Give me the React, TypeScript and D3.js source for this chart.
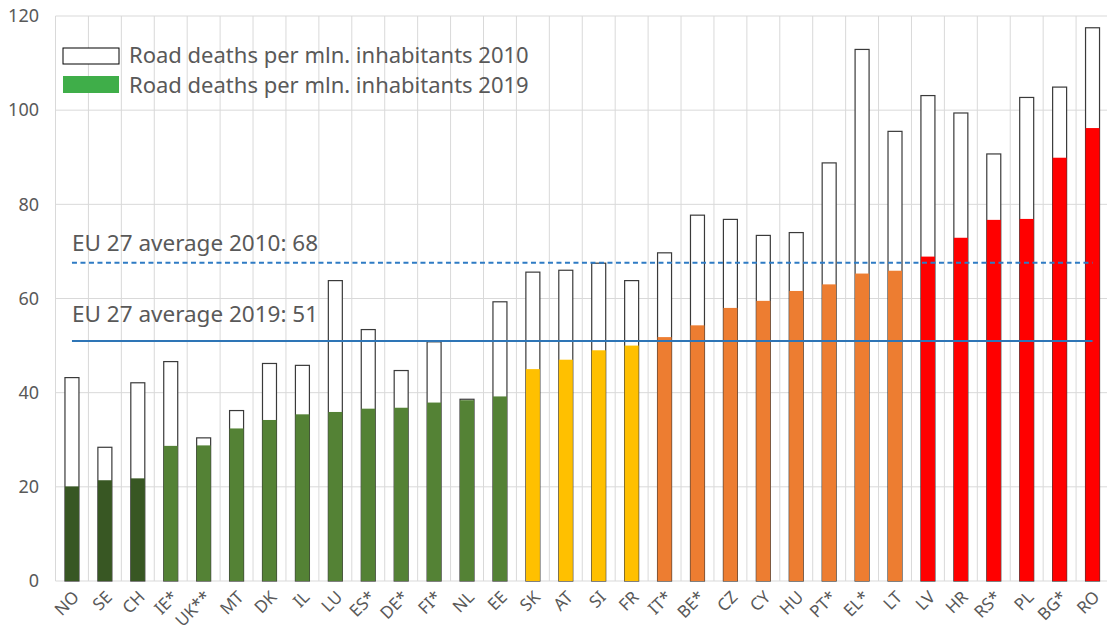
import React from 'react';
import * as d3 from 'd3';

const countries = ['NO', 'SE', 'CH', 'IE*', 'UK**', 'MT', 'DK', 'IL', 'LU', 'ES*', 'DE*', 'FI*', 'NL', 'EE', 'SK', 'AT', 'SI', 'FR', 'IT*', 'BE*', 'CZ', 'CY', 'HU', 'PT*', 'EL*', 'LT', 'LV', 'HR', 'RS*', 'PL', 'BG*', 'RO'];
const deaths2010 = [43.2, 28.4, 42.1, 46.6, 30.4, 36.2, 46.2, 45.8, 63.8, 53.4, 44.7, 50.8, 38.6, 59.3, 65.6, 66.0, 67.5, 63.8, 69.7, 77.7, 76.8, 73.4, 74.0, 88.8, 112.9, 95.5, 103.1, 99.4, 90.7, 102.7, 104.9, 117.5];
const deaths2019 = [20.1, 21.4, 21.8, 28.7, 28.8, 32.4, 34.2, 35.4, 35.9, 36.6, 36.8, 37.9, 38.4, 39.2, 45.0, 47.0, 49.0, 50.0, 51.8, 54.3, 58.0, 59.5, 61.6, 63.0, 65.3, 65.9, 68.9, 72.9, 76.7, 76.9, 89.9, 96.2];
// colour group per country (0 dark green, 1 green, 2 yellow, 3 orange, 4 red)
const groups = [0, 0, 0, 1, 1, 1, 1, 1, 1, 1, 1, 1, 1, 1, 2, 2, 2, 2, 3, 3, 3, 3, 3, 3, 3, 3, 4, 4, 4, 4, 4, 4];
const yTicks = [0, 20, 40, 60, 80, 100, 120];
const avg2010 = 67.6;
const avg2019 = 51;

const groupColors = ['#385723', '#548235', '#ffc000', '#ed7d31', '#ff0000'];
const font = '"Noto Sans", "Open Sans", sans-serif';
const grey = '#595959';

const App = () => {
  const width = 1107;
  const height = 630;
  const left = 55.5;
  const right = 1109;

  const x = d3.scaleBand<string>()
    .domain(countries)
    .range([left, right])
    .paddingInner(0.575)
    .paddingOuter(0.2875);
  const y = d3.scaleLinear().domain([0, 120]).range([581, 16]);

  const step = x.step();
  const bw = x.bandwidth();
  const cx = (c: string) => (x(c) || 0) + bw / 2;
  const vLines = d3.range(countries.length + 1).map((i) => left + i * step);

  return (
    <svg width={width} height={height} style={{ position: 'absolute', left: 0, top: 0 }} fontFamily={font}>
      <rect width={width} height={height} fill="#fff" />
      {/* grid */}
      {yTicks.map((t) => (
        <line key={'h' + t} x1={left} x2={right} y1={y(t)} y2={y(t)} stroke="#d9d9d9" strokeWidth={1} />
      ))}
      {vLines.map((vx, i) => (
        <line key={'v' + i} x1={vx} x2={vx} y1={y(120)} y2={y(0)} stroke="#d9d9d9" strokeWidth={1} />
      ))}
      {yTicks.map((t) => (
        <text key={'yt' + t} x={39} y={y(t)} dy="0.35em" textAnchor="end" fontSize={18} fill={grey}>{t}</text>
      ))}

      {/* bars */}
      {countries.map((c, i) => (
        <g key={c}>
          <rect x={x(c)} y={y(deaths2010[i])} width={bw} height={y(0) - y(deaths2010[i])}
            fill="#fff" stroke="#3a3a3a" strokeWidth={1.2} />
          <rect x={x(c)} y={y(deaths2019[i])} width={bw} height={y(0) - y(deaths2019[i])}
            fill={groupColors[groups[i]]} />
        </g>
      ))}

      {/* averages */}
      <line x1={cx(countries[0])} x2={cx(countries[countries.length - 1])} y1={y(avg2010)} y2={y(avg2010)}
        stroke="#2e7bc4" strokeWidth={2} strokeDasharray="5,3.5" />
      <line x1={cx(countries[0])} x2={cx(countries[countries.length - 1])} y1={y(avg2019)} y2={y(avg2019)}
        stroke="#2e75b6" strokeWidth={2} />
      <text x={72} y={251} fontSize={22.5} fill={grey}>EU 27 average 2010: 68</text>
      <text x={72} y={322} fontSize={22.5} fill={grey}>EU 27 average 2019: 51</text>

      {/* legend */}
      <rect x={63} y={48} width={56} height={16} fill="#fff" stroke="#000" strokeWidth={1} />
      <text x={129} y={63} fontSize={22} fill={grey}>Road deaths per mln. inhabitants 2010</text>
      <rect x={63} y={76} width={56} height={17} fill="#3fae49" />
      <text x={129} y={93} fontSize={22} fill={grey}>Road deaths per mln. inhabitants 2019</text>

      {/* x labels */}
      {countries.map((c) => (
        <text key={'xl' + c} transform={`translate(${cx(c) + 4},594) rotate(-45)`} dy="0.35em"
          textAnchor="end" fontSize={17} fill={grey}>{c}</text>
      ))}
    </svg>
  );
};

export default App;
